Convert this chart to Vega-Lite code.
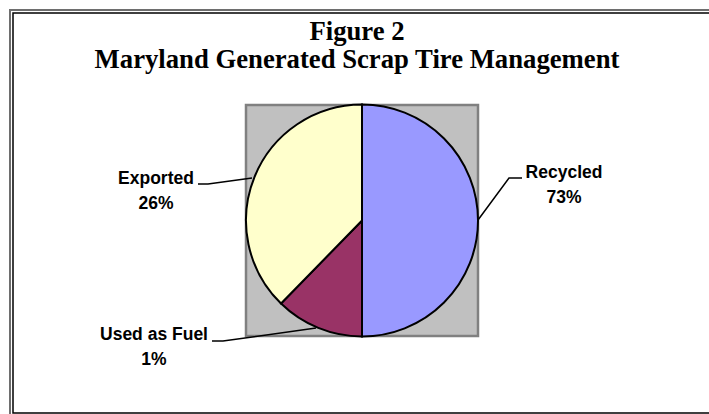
{
  "$schema": "https://vega.github.io/schema/vega-lite/v6.json",
  "width": 709,
  "height": 414,
  "padding": 0,
  "autosize": {"type": "none"},
  "background": "white",
  "config": {"view": {"stroke": null}},
  "datasets": {
    "slices": [
      {"category": "Recycled", "share": 50, "pct": "73%", "order": 1},
      {"category": "Used as Fuel", "share": 12.3, "pct": "1%", "order": 2},
      {"category": "Exported", "share": 37.7, "pct": "26%", "order": 3}
    ],
    "labels": [
      {"category": "Recycled", "text": "Recycled\n73%", "x": 564, "y": 178},
      {"category": "Used as Fuel", "text": "Used as Fuel\n1%", "x": 154, "y": 340},
      {"category": "Exported", "text": "Exported\n26%", "x": 156, "y": 184}
    ],
    "leaders": [
      {"category": "Recycled", "seq": 1, "x": 522, "y": 178},
      {"category": "Recycled", "seq": 2, "x": 509, "y": 178},
      {"category": "Recycled", "seq": 3, "x": 478, "y": 220},
      {"category": "Exported", "seq": 1, "x": 198, "y": 184},
      {"category": "Exported", "seq": 2, "x": 208, "y": 184},
      {"category": "Exported", "seq": 3, "x": 252, "y": 178},
      {"category": "Used as Fuel", "seq": 1, "x": 212, "y": 341},
      {"category": "Used as Fuel", "seq": 2, "x": 223, "y": 341},
      {"category": "Used as Fuel", "seq": 3, "x": 316, "y": 328}
    ],
    "titles": [
      {"text": "Figure 2\nMaryland Generated Scrap Tire Management"}
    ]
  },
  "layer": [
    {
      "data": {"values": [{}]},
      "mark": {"type": "rect", "fill": null, "stroke": "#6e6e6e", "strokeWidth": 2},
      "encoding": {
        "x": {"datum": 10, "type": "quantitative", "scale": {"domain": [0, 709], "nice": false, "zero": false}, "axis": null},
        "x2": {"datum": 725},
        "y": {"datum": 10, "type": "quantitative", "scale": {"domain": [0, 414], "nice": false, "zero": false, "reverse": true}, "axis": null},
        "y2": {"datum": 418}
      }
    },
    {
      "data": {"values": [{}]},
      "mark": {"type": "rect", "fill": null, "stroke": "#000000", "strokeWidth": 1.5},
      "encoding": {
        "x": {"datum": 13, "type": "quantitative"},
        "x2": {"datum": 722},
        "y": {"datum": 13, "type": "quantitative"},
        "y2": {"datum": 413}
      }
    },
    {
      "data": {"values": [{}]},
      "mark": {"type": "rect", "fill": "#C0C0C0", "stroke": "#808080", "strokeWidth": 2.5},
      "encoding": {
        "x": {"datum": 246, "type": "quantitative"},
        "x2": {"datum": 478},
        "y": {"datum": 105, "type": "quantitative"},
        "y2": {"datum": 336}
      }
    },
    {
      "data": {"name": "leaders"},
      "mark": {"type": "line", "color": "#000000", "strokeWidth": 1.5},
      "encoding": {
        "x": {"field": "x", "type": "quantitative"},
        "y": {"field": "y", "type": "quantitative"},
        "detail": {"field": "category"},
        "order": {"field": "seq"}
      }
    },
    {
      "data": {"name": "slices"},
      "mark": {"type": "arc", "outerRadius": 116, "stroke": "#000000", "strokeWidth": 2},
      "encoding": {
        "x": {"datum": 362, "type": "quantitative"},
        "y": {"datum": 220.5, "type": "quantitative"},
        "theta": {"field": "share", "type": "quantitative", "stack": true},
        "order": {"field": "order"},
        "color": {
          "field": "category",
          "type": "nominal",
          "scale": {"domain": ["Recycled", "Used as Fuel", "Exported"], "range": ["#9999FF", "#993366", "#FFFFCC"]},
          "legend": null
        }
      }
    },
    {
      "data": {"name": "labels"},
      "mark": {"type": "text", "font": "Liberation Sans", "fontWeight": "bold", "fontSize": 17.5, "align": "center", "baseline": "alphabetic", "lineBreak": "\n", "lineHeight": 24.5, "color": "#000000"},
      "encoding": {
        "x": {"field": "x", "type": "quantitative"},
        "y": {"field": "y", "type": "quantitative"},
        "text": {"field": "text"}
      }
    },
    {
      "data": {"name": "titles"},
      "mark": {"type": "text", "font": "Liberation Serif", "fontWeight": "bold", "fontSize": 26.7, "align": "center", "baseline": "alphabetic", "lineBreak": "\n", "lineHeight": 28, "color": "#000000"},
      "encoding": {
        "x": {"datum": 357, "type": "quantitative"},
        "y": {"datum": 40, "type": "quantitative"},
        "text": {"field": "text"}
      }
    }
  ]
}
